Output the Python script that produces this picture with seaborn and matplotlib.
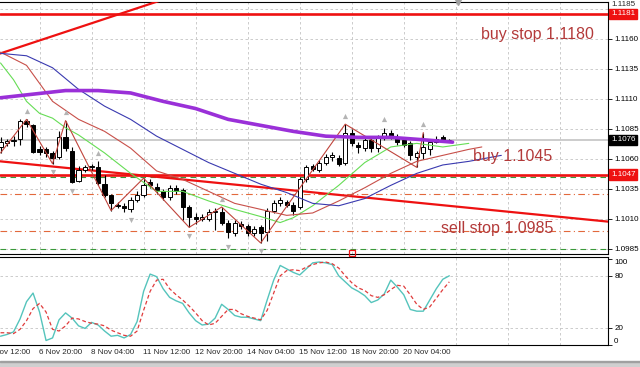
import numpy as np
import pandas as pd
import matplotlib
matplotlib.use("Agg")
import matplotlib.pyplot as plt
from matplotlib.patches import Rectangle
import seaborn as sns

# EURUSD H4 candles, bar 0 = 5 Nov 20:00 ... bar 69 = 21 Nov 08:00
opens = [1.1070, 1.1073, 1.1075, 1.1077, 1.1092, 1.1088, 1.1068, 1.1068, 1.1065, 1.1062,
         1.1078, 1.1067, 1.1042, 1.1051, 1.1053, 1.1053, 1.1039, 1.1030, 1.1022, 1.1021,
         1.1018, 1.1026, 1.1030, 1.1041, 1.1037, 1.1033, 1.1028, 1.1036, 1.1034, 1.1020,
         1.1012, 1.1010, 1.1010, 1.1016, 1.1016, 1.1007, 1.0998, 1.1006, 1.1004, 1.0998,
         1.1003, 1.0999, 1.1017, 1.1023, 1.1024, 1.1022, 1.1020, 1.1043, 1.1054, 1.1051,
         1.1057, 1.1062, 1.1061, 1.1057, 1.1082, 1.1072, 1.1069, 1.1076, 1.1069, 1.1078,
         1.1082, 1.1078, 1.1076, 1.1073, 1.1062, 1.1065, 1.1068, 1.1074, 1.1078, 1.1076]
highs = [1.1078, 1.1077, 1.1079, 1.1093, 1.1093, 1.1089, 1.1071, 1.1070, 1.1067, 1.1083,
         1.1092, 1.1070, 1.1054, 1.1055, 1.1056, 1.1058, 1.1047, 1.1031, 1.1024, 1.1023,
         1.1028, 1.1033, 1.1044, 1.1043, 1.1040, 1.1035, 1.1038, 1.1038, 1.1036, 1.1022,
         1.1015, 1.1014, 1.1018, 1.1019, 1.1020, 1.1009, 1.1009, 1.1008, 1.1006, 1.1004,
         1.1005, 1.1019, 1.1026, 1.1028, 1.1026, 1.1024, 1.1045, 1.1055, 1.1056, 1.1059,
         1.1064, 1.1066, 1.1063, 1.1089, 1.1085, 1.1074, 1.1078, 1.1079, 1.1080, 1.1086,
         1.1084, 1.1081, 1.1078, 1.1075, 1.1067, 1.1082, 1.1076, 1.1079, 1.1080, 1.1077]
lows = [1.1065, 1.1071, 1.1071, 1.1072, 1.1087, 1.1065, 1.1063, 1.1062, 1.1056, 1.1060,
        1.1067, 1.1040, 1.1041, 1.1049, 1.1051, 1.1038, 1.1028, 1.1017, 1.1019, 1.1016,
        1.1016, 1.1024, 1.1028, 1.1036, 1.1031, 1.1026, 1.1026, 1.1031, 1.1009, 1.1003,
        1.1006, 1.1008, 1.1008, 1.1001, 1.1005, 1.0994, 1.0996, 1.1002, 1.0996, 1.0996,
        1.0990, 1.0992, 1.1015, 1.1021, 1.1020, 1.1013, 1.1018, 1.1041, 1.1050, 1.1049,
        1.1055, 1.1058, 1.1054, 1.1055, 1.1071, 1.1065, 1.1067, 1.1066, 1.1066, 1.1076,
        1.1077, 1.1072, 1.1070, 1.1059, 1.1053, 1.1060, 1.1063, 1.1073, 1.1074, 1.1075]
closes = [1.1074, 1.1075, 1.1076, 1.1092, 1.1089, 1.1066, 1.1066, 1.1065, 1.1061, 1.1078,
          1.1069, 1.1041, 1.1051, 1.1053, 1.1054, 1.1040, 1.1030, 1.1023, 1.1021, 1.1019,
          1.1026, 1.1030, 1.1038, 1.1038, 1.1034, 1.1028, 1.1036, 1.1033, 1.1020, 1.1012,
          1.1010, 1.1012, 1.1016, 1.1017, 1.1007, 1.0999, 1.1007, 1.1004, 1.0998, 1.1002,
          1.0998, 1.1017, 1.1023, 1.1026, 1.1022, 1.1017, 1.1043, 1.1053, 1.1052, 1.1057,
          1.1062, 1.1063, 1.1056, 1.1082, 1.1073, 1.1070, 1.1076, 1.1069, 1.1078, 1.1082,
          1.1079, 1.1074, 1.1072, 1.1063, 1.1065, 1.1070, 1.1074, 1.1077, 1.1076, 1.1076]

# moving averages (read at sample bars)
purple_bars = [0, 5, 10, 15, 20, 25, 30, 35, 40, 45, 50, 55, 60, 65, 69.5]
purple_vals = [1.1111, 1.1114, 1.1117, 1.1117, 1.1115, 1.1108, 1.1102, 1.1093, 1.1088,
               1.1083, 1.1079, 1.1078, 1.1078, 1.1076, 1.1074]
jaw_bars = [0, 4, 8, 12, 16, 20, 24, 28, 32, 36, 40, 44, 48, 52, 56, 60, 64, 68, 72, 77]
jaw_vals = [1.1148, 1.1146, 1.1136, 1.1118, 1.1104, 1.1093, 1.1079, 1.1068, 1.1057, 1.1048,
            1.1039, 1.1032, 1.1023, 1.1021, 1.1027, 1.1038, 1.1048, 1.1055, 1.1058, 1.1063]
teeth_bars = [0, 4, 8, 12, 16, 20, 24, 28, 32, 36, 40, 44, 48, 52, 56, 60, 64, 68, 72, 74]
teeth_vals = [1.1149, 1.1138, 1.1108, 1.1093, 1.1083, 1.1069, 1.1050, 1.1043, 1.1033, 1.1023,
              1.1018, 1.1013, 1.1015, 1.1025, 1.1036, 1.1048, 1.1058, 1.1063, 1.1068, 1.1070]
lips_bars = [0, 2, 4, 6, 8, 10, 12, 16, 20, 24, 28, 32, 36, 40, 43, 45, 48, 52, 56, 60, 64, 68, 72]
lips_vals = [1.1140, 1.1126, 1.1108, 1.1098, 1.1094, 1.1086, 1.1080, 1.1065, 1.1048, 1.1033,
             1.1033, 1.1025, 1.1018, 1.1012, 1.1007, 1.1011, 1.1021, 1.1038, 1.1057, 1.1070,
             1.1073, 1.1070, 1.1073]

# zigzag pivots and fractals
zigzag_bars = [0, 4, 8, 10, 17, 22, 29, 34, 40, 53, 64, 65]
zigzag_kind = ['L', 'H', 'L', 'H', 'L', 'H', 'L', 'H', 'L', 'H', 'L', 'H']
fractal_up = [4, 10, 15, 34, 53, 59, 65]
fractal_down = [8, 11, 20, 29, 35, 40]

# stochastic
stoch_main = [10, 12, 15, 30, 50, 60, 38, 5, 8, 29, 37, 31, 22, 19, 26, 23, 16, 10, 11, 8,
              12, 27, 62, 82, 79, 65, 55, 51, 48, 37, 28, 23, 24, 31, 47, 41, 34, 32, 32, 30,
              28, 52, 75, 92, 88, 84, 81, 88, 95, 96, 95, 93, 80, 73, 66, 62, 57, 49, 52, 59,
              75, 67, 58, 41, 39, 39, 52, 65, 76, 80]
stoch_signal = [14, 14, 13, 18, 28, 42, 48, 38, 18, 16, 22, 31, 30, 27, 25, 24, 22, 17, 14, 11,
                10, 16, 40, 62, 75, 76, 65, 58, 52, 45, 37, 28, 23, 25, 33, 41, 41, 36, 33, 31,
                29, 40, 60, 80, 86, 87, 86, 90, 93, 95, 96, 94, 89, 80, 72, 66, 63, 57, 55, 58,
                64, 69, 68, 58, 47, 41, 44, 54, 64, 73]

# levels and trendlines
buy_stop_level = 1.1181
buy_level = 1.1047
current_price = 1.1076
green_levels = [1.1045, 1.0985]
orange_levels = [1.1031, 1.1000]
rising_line = ([0, 24], [1.1148, 1.1191])
falling_line = ([0, 93], [1.1058, 1.1008])

price_ticks = [1.0985, 1.1010, 1.1035, 1.1060, 1.1085, 1.1110, 1.1135, 1.1160, 1.1185]
grid_bars = [-2, 6, 14, 22, 30, 38, 46, 54, 62, 70, 78, 86]
time_labels = ['5 Nov 12:00', '6 Nov 20:00', '8 Nov 04:00', '11 Nov 12:00', '12 Nov 20:00',
               '14 Nov 04:00', '15 Nov 12:00', '18 Nov 20:00', '20 Nov 04:00']

sns.set_style("white")
plt.rcParams['font.family'] = ['Liberation Sans', 'DejaVu Sans']

W, H = 640, 367
fig = plt.figure(figsize=(W / 100, H / 100), dpi=100)
fig.patch.set_facecolor('white')
ax = fig.add_axes([0, (H - 254) / H, 608 / W, 252 / H])
ax2 = fig.add_axes([0, (H - 345) / H, 608 / W, 88 / H])

df = pd.DataFrame({'bar': np.arange(len(opens)), 'open': opens, 'high': highs,
                   'low': lows, 'close': closes})
df['up'] = df['close'] >= df['open']
df['body_lo'] = df[['open', 'close']].min(axis=1)
df['body_h'] = (df['close'] - df['open']).abs().clip(lower=0.00002)

grid_kw = dict(color='#c4c4c4', lw=0.6, ls=(0, (3, 3)))
XLIM = (-0.08, 93.4)
small = 5.8

# --- main price panel ---
ax.axhline(current_price, color='#c8c8c8', lw=1.3, zorder=1)
for lv in green_levels:
    ax.axhline(lv, color='#3a9a3a', lw=0.8, ls=(0, (5, 4)), zorder=2)
for lv in orange_levels:
    ax.axhline(lv, color='#e2693c', lw=0.8, ls=(0, (6, 3, 1, 3)), zorder=2)
ax.axhline(buy_stop_level, color='#ee1111', lw=1.9, zorder=3)
ax.axhline(buy_level, color='#ee1111', lw=1.9, zorder=3)
ax.plot([-1, 30], np.polyval(np.polyfit(*rising_line, 1), [-1, 30]), color='#ee1111', lw=1.6, zorder=3)
ax.plot([-1, 95], np.polyval(np.polyfit(*falling_line, 1), [-1, 95]), color='#ee1111', lw=1.6, zorder=3)

# candles
ax.vlines(df['bar'], df['low'], df['high'], color='black', lw=0.8, zorder=4)
ax.bar(df['bar'], df['body_h'], bottom=df['body_lo'], width=0.65,
       color=np.where(df['up'], 'white', 'black'), edgecolor='black', lw=0.7, zorder=5)

# indicators
sns.lineplot(x=lips_bars, y=lips_vals, ax=ax, color='#66dd55', lw=0.8, zorder=6)
sns.lineplot(x=teeth_bars, y=teeth_vals, ax=ax, color='#c8504a', lw=0.8, zorder=6)
sns.lineplot(x=jaw_bars, y=jaw_vals, ax=ax, color='#3a3ab0', lw=0.8, zorder=6)
sns.lineplot(x=purple_bars, y=purple_vals, ax=ax, color='#9a30d8', lw=2.6, zorder=7)

zz_prices = [df['high'][b] if k == 'H' else df['low'][b] for b, k in zip(zigzag_bars, zigzag_kind)]
ax.plot(zigzag_bars, zz_prices, color='#c0443c', lw=0.8, zorder=6)
ax.scatter(fractal_up, df['high'][fractal_up] + 0.0007, marker='^', s=14, color='#b4b4b4', zorder=6, lw=0)
ax.scatter(fractal_down, df['low'][fractal_down] - 0.0007, marker='v', s=14, color='#b4b4b4', zorder=6, lw=0)
ax.plot([54], [1.09815], marker='s', ms=4, mfc='none', mec='#ee1111', mew=0.9, clip_on=False, zorder=8)
ax.plot([70.3], [1.11905], marker='v', ms=4, color='#a0a0a0', clip_on=False, zorder=8)

txt_color = '#b33a3a'
ax.text(73.8, 1.11633, 'buy stop 1.1180', color=txt_color, fontsize=11.5, va='center', ha='left', zorder=9)
ax.text(72.6, 1.10617, 'buy 1.1045', color=txt_color, fontsize=11.5, va='center', ha='left', zorder=9)
ax.text(67.7, 1.10017, 'sell stop 1.0985', color=txt_color, fontsize=11.5, va='center', ha='left', zorder=9)


def axis_box(axis, y, text, fc):
    axis.text(1.0 + 3 / 608, y, text, transform=axis.get_yaxis_transform(), ha='left', va='center',
              fontsize=small, color='white', clip_on=False, zorder=10,
              bbox=dict(boxstyle='square,pad=0.2', fc=fc, ec=fc))


axis_box(ax, buy_stop_level, f"{buy_stop_level:.4f}", '#ee1111')
axis_box(ax, buy_level, f"{buy_level:.4f}", '#ee1111')
axis_box(ax, current_price, f"{current_price:.4f}", 'black')

# price scale: the top label sits mostly above the red box, cut by the window edge
ax.set_xticks(grid_bars)
ax.set_yticks(price_ticks)
ax.set_yticklabels([f"{p:.4f}" for p in price_ticks[:-1]] + [''])
fig.text(611 / W, 1 - 7.5 / H, f"{price_ticks[-1]:.4f}", fontsize=small, ha='left', va='bottom')
ax.yaxis.tick_right()
ax.tick_params(axis='x', length=0, labelbottom=False)
ax.tick_params(axis='y', length=3, width=0.6, pad=1.5, labelsize=small, colors='black')
ax.grid(True, **grid_kw)
ax.set_axisbelow(True)
ax.set_xlabel('')
ax.set_ylabel('')
ax.set_xlim(*XLIM)
ax.set_ylim(1.09808, 1.11908)
for side in ['top', 'right', 'bottom']:
    ax.spines[side].set_color('black')
    ax.spines[side].set_linewidth(0.8)
ax.spines['left'].set_visible(False)

# --- stochastic panel ---
sns.lineplot(x=df['bar'], y=stoch_main, ax=ax2, color='#55c4bc', lw=1.0)
sns.lineplot(x=df['bar'], y=stoch_signal, ax=ax2, color='#e03c3c', lw=0.9)
ax2.lines[-1].set_linestyle((0, (3, 2)))
ax2.axhline(20, **grid_kw, zorder=0)
ax2.axhline(80, **grid_kw, zorder=0)
ax2.set_xticks(grid_bars[1:len(time_labels)])
ax2.set_xticklabels([])
ax2.set_xticks(grid_bars, minor=True)
for b, lab in zip(grid_bars, time_labels):
    ax2.text(b - 0.1, -4 / 88, lab, transform=ax2.get_xaxis_transform(), ha='left', va='top',
             fontsize=small, clip_on=False)
ax2.set_yticks([0, 20, 80, 100])
ax2.set_yticklabels(['0', '20', '80', '100'])
ax2.yaxis.tick_right()
ylabs = ax2.get_yticklabels()
ylabs[0].set_va('bottom')
ylabs[-1].set_va('top')
ax2.tick_params(axis='x', which='both', length=3, width=0.6, colors='black')
ax2.tick_params(axis='y', length=3, width=0.6, pad=1.5, labelsize=small, colors='black')
ax2.grid(axis='x', which='minor', **grid_kw)
ax2.set_axisbelow(True)
ax2.set_xlabel('')
ax2.set_ylabel('')
ax2.set_xlim(*XLIM)
ax2.set_ylim(-0.2, 101.8)
for side in ['top', 'right', 'bottom']:
    ax2.spines[side].set_color('black')
    ax2.spines[side].set_linewidth(0.8)
ax2.spines['left'].set_visible(False)

# bottom window strip
fig.patches.append(Rectangle((0, 0), 1, 5 / H, transform=fig.transFigure, color='#cfcfcf', zorder=0))
fig.patches.append(Rectangle((0, 5 / H), 1, 1 / H, transform=fig.transFigure, color='#a0a0a0', zorder=0))

fig.savefig('out.png', dpi=100)
